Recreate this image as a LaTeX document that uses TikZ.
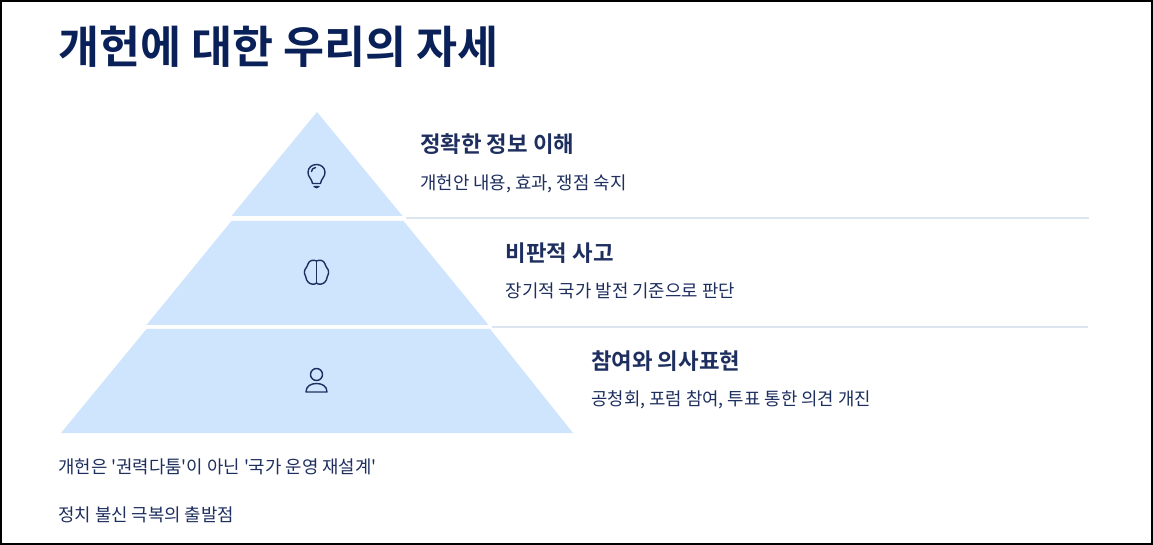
\documentclass[tikz,border=0pt]{standalone}
\usepackage{fontspec}
\setmainfont{Noto Sans CJK KR}
\newfontfamily\regf[Ligatures=Rare]{Noto Sans CJK KR}
\newfontfamily\boldf{Noto Sans CJK KR Bold}
\definecolor{navy}{HTML}{0A2058}
\definecolor{ink}{HTML}{1E2F5F}
\definecolor{tier}{HTML}{CFE4FD}
\definecolor{rule}{HTML}{DCE6F1}
\tikzset{
 x=0.75pt,y=-0.75pt,
 tierbox/.style={fill=tier,draw=none},
 rulerline/.style={draw=rule,line width=1.5pt*0.75},
 icon/.style={draw=ink,line width=1.05pt,line join=round,line cap=round},
 titletext/.style={anchor=base west,inner sep=0,text=navy,font=\boldf\fontsize{33.45pt}{40pt}\selectfont},
 headtext/.style={anchor=base west,inner sep=0,text=ink,font=\boldf\fontsize{16.75pt}{20pt}\selectfont},
 bodytext/.style={anchor=base west,inner sep=0,text=ink,font=\regf\fontsize{13.36pt}{16pt}\selectfont},
}
\begin{document}
\begin{tikzpicture}
\useasboundingbox (0,0) rectangle (1153,545);
\fill[white] (0,0) rectangle (1153,545);
\fill[tierbox] (317,112) -- (402.5,216) -- (231.5,216) -- cycle;
\fill[tierbox] (231.5,221) -- (403.5,221) -- (488.5,325) -- (146.5,325) -- cycle;
\fill[tierbox] (146.5,329) -- (490,329) -- (573,433) -- (61,433) -- cycle;
\coordinate (r1a) at (406,218); \coordinate (r1b) at (1089,218);
\coordinate (r2a) at (492,327); \coordinate (r2b) at (1088,327);
\draw[rulerline] (r1a) -- (r1b);
\draw[rulerline] (r2a) -- (r2b);
% bulb
\draw[icon] (312.5,183.5) .. controls (312,179) and (308,177) .. (308,172.5)
  .. controls (308,167.5) and (312,164.5) .. (316.5,164.5)
  .. controls (321,164.5) and (325,167.5) .. (325,172.5)
  .. controls (325,177) and (321,179) .. (320.5,183.5) -- cycle;
\draw[icon,fill=ink] (314,186.5) .. controls (315,188) and (318,188) .. (319,186.5) -- cycle;
\draw[icon] (311.5,171.5) .. controls (311.5,169.5) and (313,168) .. (315.5,167.5);
% brain
\draw[icon] (316.5,261) .. controls (314,259.5) and (309,260) .. (308,264)
  .. controls (307,266) and (307,267) .. (306,268)
  .. controls (304,270) and (304,274) .. (305.5,276)
  .. controls (306,279) and (307,281) .. (308,282)
  .. controls (310,284.5) and (315,285) .. (316.5,283)
  .. controls (318,285) and (323,284.5) .. (325,282)
  .. controls (326,281) and (327,279) .. (327.5,276)
  .. controls (329,274) and (329,270) .. (327,268)
  .. controls (326,267) and (326,266) .. (325,264)
  .. controls (324,260) and (319,259.5) .. (316.5,261) -- cycle;
\draw[icon] (316.5,261) -- (316.5,283);
% person
\draw[icon] (316.5,374.5) circle (6);
\draw[icon] (306,392) .. controls (306,386) and (311,383.5) .. (316.5,383.5)
  .. controls (322,383.5) and (327,386) .. (327,392) -- cycle;
% text
\node[titletext] (title) at (58,64) {개헌에 대한 우리의 자세};
\node[headtext] (h1) at (420,152.5) {정확한 정보 이해};
\node[bodytext] (b1) at (420,189.5) {개헌안 내용, 효과, 쟁점 숙지};
\node[headtext] (h2) at (505.5,261.5) {비판적 사고};
\node[bodytext] (b2) at (505.5,297.5) {장기적 국가 발전 기준으로 판단};
\node[headtext] (h3) at (591,369.5) {참여와 의사표현};
\node[bodytext] (b3) at (591,405.5) {공청회, 포럼 참여, 투표 통한 의견 개진};
\node[bodytext] (f1) at (58,473.5) {개헌은 '권력다툼'이 아닌 '국가 운영 재설계'};
\node[bodytext] (f2) at (58,521.5) {정치 불신 극복의 출발점};
\draw[black,line width=1.5pt] (1,1) rectangle (1152,544);
\end{tikzpicture}
\end{document}
